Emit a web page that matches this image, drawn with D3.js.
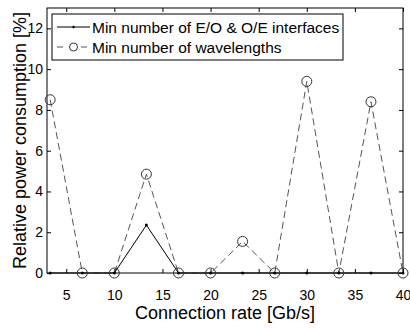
<!DOCTYPE html>
<html>
<head>
<meta charset="utf-8">
<script src="https://cdn.jsdelivr.net/npm/d3@7"></script>
<style>
  body { margin: 0; background: #fff; }
  text { font-family: "Liberation Sans", Arial, sans-serif; fill: #000; }
</style>
</head>
<body>
<div id="chart"></div>
<script>
const rates = [3.33, 6.67, 10, 13.33, 16.67, 20, 23.33, 26.67, 30, 33.33, 36.67, 40];
const interfaces = [0, 0, 0, 2.35, 0, 0, 0, 0, 0, 0, 0, 0];
const wavelengths = [8.5, 0, 0, 4.85, 0, 0, 1.55, 0, 9.4, 0, 8.4, 0];
const xTicks = [5, 10, 15, 20, 25, 30, 35, 40];
const yTicks = [0, 2, 4, 6, 8, 10, 12];
const seriesNames = ["Min number of E/O & O/E interfaces", "Min number of wavelengths"];

const width = 410, height = 328;
const margin = { left: 47, right: 7, top: 8, bottom: 55 };

const svg = d3.select("#chart").append("svg")
  .attr("width", width)
  .attr("height", height);

const x = d3.scaleLinear().domain([3, 40]).range([margin.left, width - margin.right]);
const y = d3.scaleLinear().domain([0, 13]).range([height - margin.bottom, margin.top]);

// frame
svg.append("rect")
  .attr("x", x(3)).attr("y", y(13))
  .attr("width", x(40) - x(3)).attr("height", y(0) - y(13))
  .attr("fill", "none").attr("stroke", "#000").attr("stroke-width", 1);

// axes, ticks pointing inward (matlab box style)
const xAxis = svg.append("g")
  .attr("transform", `translate(0,${y(0)})`)
  .call(d3.axisBottom(x).tickValues(xTicks).tickSizeInner(-4).tickSizeOuter(0).tickPadding(17));
svg.append("g")
  .attr("transform", `translate(0,${y(13)})`)
  .call(d3.axisTop(x).tickValues(xTicks).tickSizeInner(-4).tickSizeOuter(0).tickFormat(""));
const yAxis = svg.append("g")
  .attr("transform", `translate(${x(3)},0)`)
  .call(d3.axisLeft(y).tickValues(yTicks).tickSizeInner(-4).tickSizeOuter(0).tickPadding(4));
svg.append("g")
  .attr("transform", `translate(${x(40)},0)`)
  .call(d3.axisRight(y).tickValues(yTicks).tickSizeInner(-4).tickSizeOuter(0).tickFormat(""));

svg.selectAll(".domain").remove();
svg.selectAll(".tick line").attr("stroke", "#000");
xAxis.selectAll("text").style("font-size", "14px");
yAxis.selectAll("text").style("font-size", "14px");

// series
const line = d3.line().x(d => x(d[0])).y(d => y(d[1]));
const pts1 = rates.map((r, i) => [r, interfaces[i]]);
const pts2 = rates.map((r, i) => [r, wavelengths[i]]);

svg.append("path").datum(pts2)
  .attr("d", line).attr("fill", "none")
  .attr("stroke", "#555").attr("stroke-width", 1).attr("stroke-dasharray", "7,4");
svg.append("path").datum(pts1)
  .attr("d", line).attr("fill", "none")
  .attr("stroke", "#000").attr("stroke-width", 1);

svg.selectAll(".dot").data(pts1).enter().append("circle")
  .attr("cx", d => x(d[0])).attr("cy", d => y(d[1]))
  .attr("r", 1.5).attr("fill", "#000");
svg.selectAll(".ring").data(pts2).enter().append("circle")
  .attr("cx", d => x(d[0])).attr("cy", d => y(d[1]))
  .attr("r", 5).attr("fill", "none").attr("stroke", "#333").attr("stroke-width", 1);

// legend
const lg = svg.append("g").attr("transform", "translate(52,14)");
lg.append("rect").attr("width", 291).attr("height", 46)
  .attr("fill", "#fff").attr("stroke", "#000");
lg.append("line").attr("x1", 5).attr("x2", 38).attr("y1", 13).attr("y2", 13)
  .attr("stroke", "#000");
lg.append("circle").attr("cx", 21.5).attr("cy", 13).attr("r", 1.2).attr("fill", "#000");
lg.append("line").attr("x1", 5).attr("x2", 38).attr("y1", 33).attr("y2", 33)
  .attr("stroke", "#555").attr("stroke-dasharray", "6,6");
lg.append("circle").attr("cx", 21.5).attr("cy", 33).attr("r", 4)
  .attr("fill", "#fff").attr("stroke", "#333");
lg.selectAll(".lt").data(seriesNames).enter().append("text")
  .attr("x", 40).attr("y", (d, i) => 18.5 + i * 20)
  .style("font-size", "15.5px")
  .text(d => d);

// axis labels
svg.append("text")
  .attr("x", (x(3) + x(40)) / 2).attr("y", 319)
  .attr("text-anchor", "middle").style("font-size", "18px")
  .text("Connection rate [Gb/s]");
svg.append("text")
  .attr("transform", `translate(26,${(y(0) + y(13)) / 2}) rotate(-90)`)
  .attr("text-anchor", "middle").style("font-size", "18px")
  .text("Relative power consumption [%]");
</script>
</body>
</html>
